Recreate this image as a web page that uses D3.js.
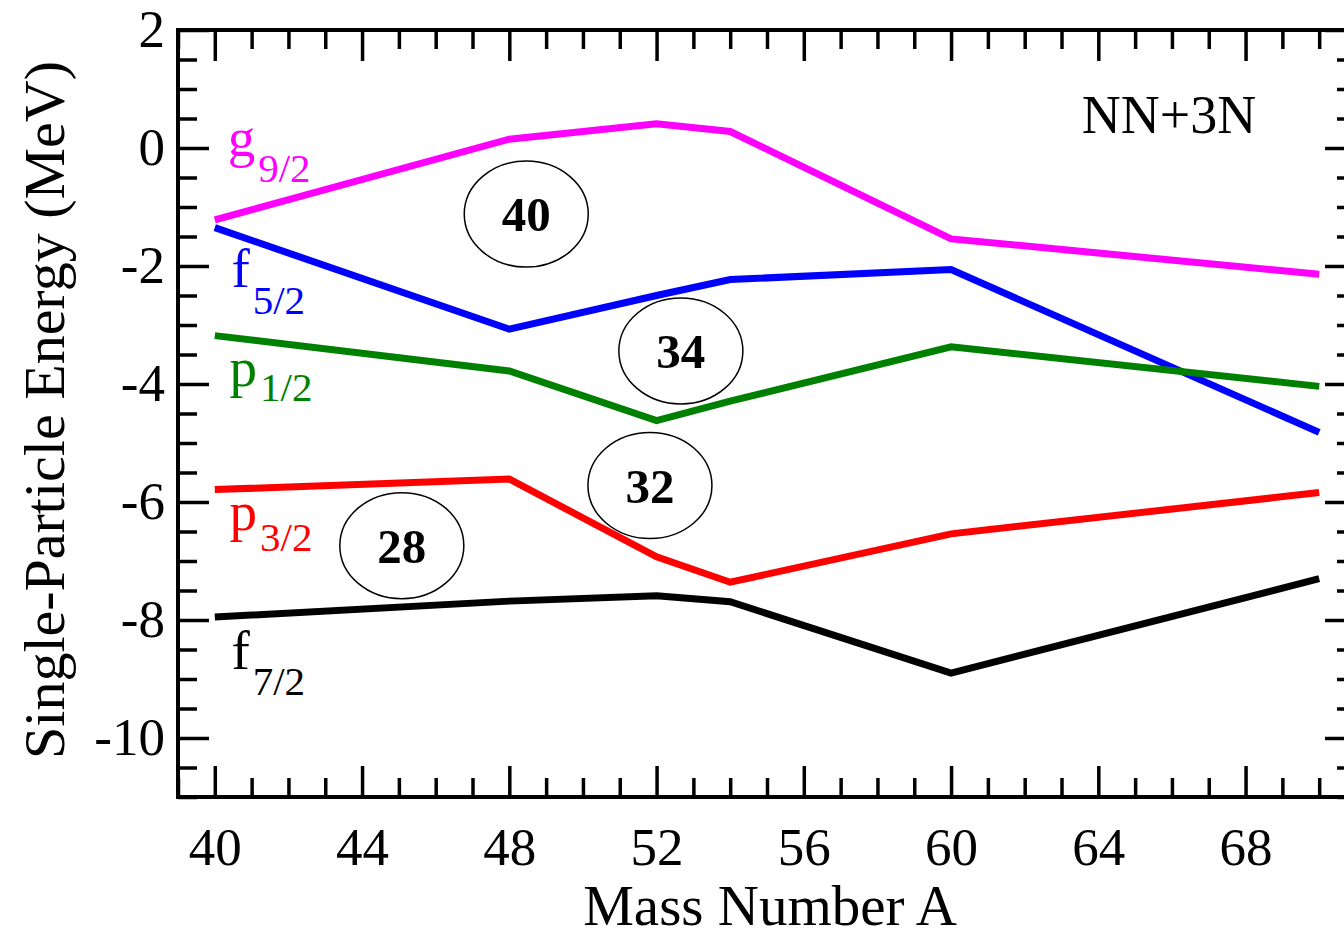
<!DOCTYPE html>
<html>
<head>
<meta charset="utf-8">
<script src="https://cdn.jsdelivr.net/npm/d3@7"></script>
<style>
  body { margin: 0; background: #fff; }
  text { font-family: "Liberation Serif", "Times New Roman", serif; }
</style>
</head>
<body>
<div id="chart"></div>
<script>
"use strict";

// mass numbers where the energies were computed
var massNumbers = [40, 48, 52, 54, 60, 70];

// single-particle energies (MeV), NN+3N
var g92 = [-1.22, 0.15, 0.41, 0.28, -1.54, -2.14];
var f52 = [-1.35, -3.07, -2.50, -2.23, -2.06, -4.82];
var p12 = [-3.18, -3.78, -4.62, -4.29, -3.37, -4.04];
var p32 = [-5.79, -5.61, -6.93, -7.36, -6.54, -5.84];
var f72 = [-7.95, -7.68, -7.59, -7.69, -8.90, -7.30];

var xMajorTicks = [40, 44, 48, 52, 56, 60, 64, 68];
var yMajorTicks = [2, 0, -2, -4, -6, -8, -10];

var seriesNames = ["g", "f", "p", "p", "f"];
var seriesSubs = ["9/2", "5/2", "1/2", "3/2", "7/2"];
var seriesValues = [g92, f52, p12, p32, f72];
var seriesColors = ["#ff00ff", "#0000ff", "#008000", "#ff0000", "#000000"];

// shell gaps marked with circles
var gapLabels = ["40", "34", "32", "28"];

var width = 1344, height = 941;
var margin = { left: 178, right: 1356, top: 30, bottom: 797 };

var svg = d3.select("#chart").append("svg")
    .attr("width", width)
    .attr("height", height);

var x = d3.scaleLinear().domain([39, 71]).range([margin.left, margin.right]);
var y = d3.scaleLinear().domain([-11, 2]).range([margin.bottom, margin.top]);

var majorLen = 31, minorLen = 19;
var plain = function (d) { return String(d); }; // keep ascii hyphen like the original

// ---- axes (ticks pointing inward on all four sides)
var xMinor = d3.range(39, 72, 1).filter(function (v) { return v % 4 !== 0; });
var yMinor = d3.range(-11, 2.01, 0.5).filter(function (v) { return v % 2 !== 0; });

function styleAxis(g) {
    g.select(".domain").remove();
    g.selectAll(".tick line").attr("stroke", "#000").attr("stroke-width", 3.5);
    g.selectAll(".tick text").attr("fill", "#000").style("font-size", "53px");
}

svg.append("g")
    .attr("transform", "translate(0," + margin.bottom + ")")
    .call(d3.axisBottom(x).tickValues(xMajorTicks).tickSizeInner(-majorLen).tickSizeOuter(0).tickPadding(30).tickFormat(plain))
    .call(styleAxis);
svg.append("g")
    .attr("transform", "translate(0," + margin.bottom + ")")
    .call(d3.axisBottom(x).tickValues(xMinor).tickSizeInner(-minorLen).tickSizeOuter(0).tickFormat(""))
    .call(styleAxis);
svg.append("g")
    .attr("transform", "translate(0," + margin.top + ")")
    .call(d3.axisTop(x).tickValues(xMajorTicks).tickSizeInner(-majorLen).tickSizeOuter(0).tickFormat(""))
    .call(styleAxis);
svg.append("g")
    .attr("transform", "translate(0," + margin.top + ")")
    .call(d3.axisTop(x).tickValues(xMinor).tickSizeInner(-minorLen).tickSizeOuter(0).tickFormat(""))
    .call(styleAxis);

svg.append("g")
    .attr("transform", "translate(" + margin.left + ",0)")
    .call(d3.axisLeft(y).tickValues(yMajorTicks).tickSizeInner(-majorLen).tickSizeOuter(0).tickPadding(13).tickFormat(plain))
    .call(styleAxis);
svg.append("g")
    .attr("transform", "translate(" + margin.left + ",0)")
    .call(d3.axisLeft(y).tickValues(yMinor).tickSizeInner(-minorLen).tickSizeOuter(0).tickFormat(""))
    .call(styleAxis);
svg.append("g")
    .attr("transform", "translate(" + margin.right + ",0)")
    .call(d3.axisRight(y).tickValues(yMajorTicks).tickSizeInner(-majorLen).tickSizeOuter(0).tickFormat(""))
    .call(styleAxis);
svg.append("g")
    .attr("transform", "translate(" + margin.right + ",0)")
    .call(d3.axisRight(y).tickValues(yMinor).tickSizeInner(-minorLen).tickSizeOuter(0).tickFormat(""))
    .call(styleAxis);

// frame
svg.append("rect")
    .attr("x", margin.left)
    .attr("y", margin.top)
    .attr("width", margin.right - margin.left)
    .attr("height", margin.bottom - margin.top)
    .attr("fill", "none")
    .attr("stroke", "#000")
    .attr("stroke-width", 4);

// axis titles
svg.append("text")
    .attr("x", 770)
    .attr("y", 925)
    .attr("text-anchor", "middle")
    .style("font-size", "57px")
    .text("Mass Number A");

svg.append("text")
    .attr("transform", "translate(64," + 410 + ") rotate(-90)")
    .attr("text-anchor", "middle")
    .style("font-size", "58px")
    .text("Single-Particle Energy (MeV)");

// ---- lines
var line = d3.line()
    .x(function (d, i) { return x(massNumbers[i]); })
    .y(function (d) { return y(d); });

svg.append("g").selectAll("path")
    .data(seriesValues)
    .enter().append("path")
    .attr("d", line)
    .attr("fill", "none")
    .attr("stroke", function (d, i) { return seriesColors[i]; })
    .attr("stroke-width", 7);

// ---- orbital labels (position in data units, sub offset in px)
var labelPos = [
    { a: 40.35, e: -0.14, dy: 26 },
    { a: 40.45, e: -2.36, dy: 27 },
    { a: 40.40, e: -4.03, dy: 15 },
    { a: 40.40, e: -6.47, dy: 21 },
    { a: 40.45, e: -8.83, dy: 26 }
];

var labels = svg.append("g").selectAll("text")
    .data(labelPos)
    .enter().append("text")
    .attr("x", function (d) { return x(d.a); })
    .attr("y", function (d) { return y(d.e); })
    .attr("fill", function (d, i) { return seriesColors[i]; })
    .style("font-size", "55px");
labels.append("tspan").text(function (d, i) { return seriesNames[i]; });
labels.append("tspan")
    .attr("dx", 3)
    .attr("dy", function (d) { return d.dy; })
    .style("font-size", "41px")
    .text(function (d, i) { return seriesSubs[i]; });

// ---- shell-gap ellipses
var gapPos = [
    { a: 48.46, e: -1.12 },
    { a: 52.66, e: -3.44 },
    { a: 51.82, e: -5.72 },
    { a: 45.08, e: -6.74 }
];

var gaps = svg.append("g").selectAll("g")
    .data(gapPos)
    .enter().append("g")
    .attr("transform", function (d) { return "translate(" + x(d.a) + "," + y(d.e) + ")"; });
gaps.append("ellipse")
    .attr("rx", 62)
    .attr("ry", 53)
    .attr("fill", "none")
    .attr("stroke", "#000")
    .attr("stroke-width", 1.5);
gaps.append("text")
    .attr("text-anchor", "middle")
    .attr("dy", "0.35em")
    .style("font-size", "49px")
    .style("font-weight", "bold")
    .text(function (d, i) { return gapLabels[i]; });

// interaction tag
svg.append("text")
    .attr("x", x(68.29))
    .attr("y", 133)
    .attr("text-anchor", "end")
    .style("font-size", "54px")
    .text("NN+3N");
</script>
</body>
</html>
